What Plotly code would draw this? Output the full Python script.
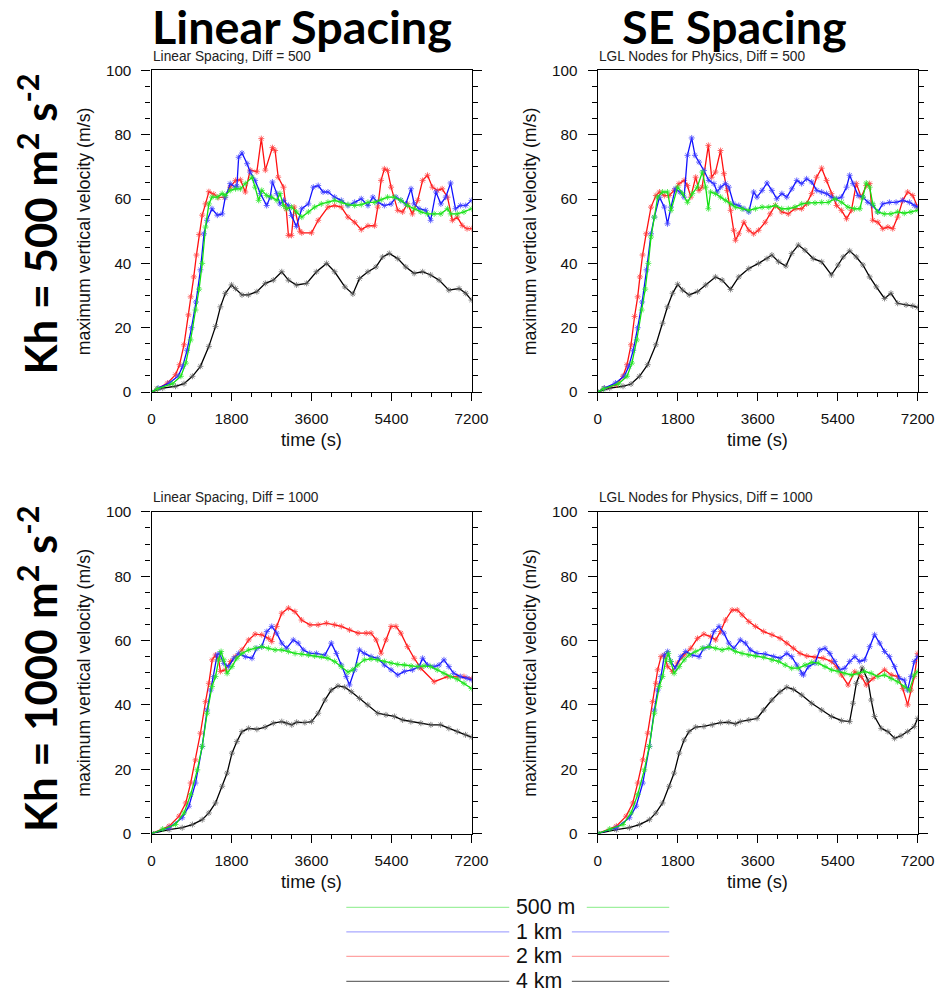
import plotly.graph_objects as go

W, H = 943, 991

# ---------------- data (time in s, max vertical velocity in m/s) ----------------
# Panel: Linear Spacing, Diff = 500
lin500_green_t = [0,130,470,660,770,880,990,1070,1140,1215,1290,1360,1480,1590,1660,1770,1890,2000,2110,2260,2330,2410,2480,2590,2700,2820,2890,2970,3040,3150,3260,3380,3530,3670,3820,3970,4120,4270,4420,4570,4720,4870,5020,5170,5310,5460,5610,5760,5910,6060,6210,6360,6510,6660,6730,6880,7030,7200]
lin500_green_v = [0,1,2.6,4.9,9,16.2,25.5,32,40,51.3,58.5,60.6,60.6,61.7,61.1,62.7,63.2,63.2,64.8,66.8,63.7,59.6,62.7,61.1,60.6,59.6,61.7,58,57,57.5,56,54.4,56,57.5,58.5,59,59.6,59,58.3,58,58.3,59,59,59.8,60.6,60.6,59.6,58,57,56,55.4,55.4,55.4,57,55.4,55.4,56,57]
lin500_blue_t = [0,150,400,600,700,800,900,1000,1100,1180,1250,1360,1480,1590,1660,1770,1890,1920,1960,2035,2150,2220,2330,2450,2590,2670,2720,2820,2890,2970,3080,3150,3260,3380,3530,3640,3750,3860,3970,4120,4270,4420,4570,4720,4870,4980,5090,5240,5390,5500,5610,5720,5840,5910,6020,6170,6280,6400,6510,6620,6730,6840,6950,7070,7200]
lin500_blue_v = [0,1.2,2.8,5,8,13,20,28,38,49.2,53.4,57,55,55.4,60.6,64.8,63.7,64,73,74.3,71,68.4,65.8,61.7,58,60.6,65.3,61.7,58.5,59.6,58,54.9,51.5,57,58.5,63.7,64.2,62.2,62.2,60.6,59.6,58,59,60.1,58,60.6,59,58,58.5,60.6,59.6,58.5,63.2,58.5,57,56.5,53.4,62.2,58.5,60.6,65,57,58,58,59.6]
lin500_red_t = [0,130,360,540,630,730,830,880,950,1010,1070,1140,1215,1290,1400,1500,1640,1770,1890,2000,2110,2220,2370,2470,2560,2720,2780,2850,2970,3030,3080,3150,3210,3340,3380,3600,3750,3970,4120,4270,4420,4570,4720,4870,5020,5090,5165,5240,5310,5390,5540,5650,5760,5870,5990,6100,6210,6320,6430,6540,6660,6770,6880,6990,7100,7200]
lin500_red_v = [0,1,2.8,5.4,8.5,14.7,24,29.6,35.8,42.6,49,55,58.5,62.3,61.5,60.5,60.5,63.7,65.8,66,62.2,69,68.5,78.8,69,76,75.1,66.8,63.7,57,48.7,48.7,57.5,50,49.5,49.5,53.4,57.5,58,57.5,54.4,52.8,50.5,51.7,51.7,57.5,65.8,69.4,68.9,63.7,56.5,56,58.5,55.4,59.6,65.8,67.4,63.7,62.7,63.2,60.6,53.4,54.4,51.8,50.8,50.8]
lin500_black_t = [0,250,540,730,920,1100,1290,1440,1550,1660,1800,1890,2035,2180,2370,2560,2740,2930,3080,3260,3490,3710,3940,4120,4350,4530,4680,4870,5050,5200,5350,5540,5720,5910,6100,6280,6470,6690,6920,7070,7200]
lin500_black_v = [0,1.2,1.8,2.6,4.9,8,14.2,20.4,26.5,30.7,33.3,32.2,30.2,30.2,31.2,33.8,34.8,37.4,34.8,33.3,33.8,37.4,40,37.4,32.7,30.5,35.3,37.4,38.9,42,43.1,41.5,38.9,36.9,37.4,36.4,34.8,31.7,32.2,30.7,28.6]

# Panel: LGL Nodes for Physics, Diff = 500
se500_green_t = [0,130,470,660,770,880,990,1070,1140,1200,1275,1350,1460,1570,1650,1800,1910,2020,2130,2240,2355,2430,2490,2540,2650,2765,2880,2990,3100,3250,3400,3550,3700,3850,4000,4140,4290,4440,4590,4740,4890,5040,5190,5340,5490,5630,5780,5900,5970,6045,6120,6190,6300,6450,6600,6750,6900,7050,7200]
se500_green_v = [0,1,2.6,4.9,9,16.2,25.5,32,40,48.2,54.4,60.6,62.2,62.2,56.5,63.7,61.7,59,61.7,63.7,68.4,63.7,57,62.2,61.7,60.6,59.6,58.5,57.5,57,56.5,57,57.5,57.5,58,57,57,57.5,58.5,58.8,58.8,59,59,60.1,59,57.5,57,57,60.6,65,63.7,58.5,56,55.4,55.4,56,55.6,56,56.5]
se500_blue_t = [0,150,400,600,700,800,900,1000,1100,1200,1275,1390,1500,1570,1650,1745,1850,1945,2020,2115,2190,2280,2390,2500,2615,2690,2765,2875,2950,3060,3175,3290,3400,3510,3585,3700,3810,3920,4030,4145,4255,4370,4480,4590,4700,4815,4930,5040,5150,5260,5375,5485,5600,5670,5745,5860,5970,6080,6190,6305,6415,6565,6715,6865,7015,7125,7200]
se500_blue_v = [0,1.2,2.8,5,8,13,20,28,38,49.2,54.4,60.6,57.5,52.3,57.5,63.2,62.2,60.6,73.6,79,73.6,71.5,68.9,65.8,64.8,62.2,63.7,64.8,63.7,58.5,58,57,56,62.2,60.6,62.7,65,62.7,60.1,61.7,60.6,63.2,65.8,64.8,66.3,65.3,62.7,62.2,61.7,60.6,60.1,60.6,63.7,67.4,64.8,61.1,60.6,59,58,56,58.5,59,59,59.6,59,58,57.5]
se500_red_t = [0,150,420,570,660,750,830,900,950,1010,1090,1200,1310,1390,1500,1610,1720,1830,1945,2020,2095,2205,2280,2350,2490,2565,2650,2765,2840,2915,2990,3060,3100,3175,3290,3400,3510,3620,3770,3880,3995,4145,4290,4440,4590,4700,4815,4925,5040,5150,5260,5375,5485,5600,5710,5820,5930,6045,6120,6190,6305,6415,6530,6640,6750,6865,6975,7090,7200]
se500_red_v = [0,1.2,2.3,4.9,8.5,14.7,23.5,29.6,35.8,42.6,49.2,57.5,61.1,62.2,61.1,61.1,62.7,64.8,65.8,64.2,60.6,66.8,62.7,63.7,76.7,66.8,68.4,75.1,67.9,62.7,56.5,50.3,47.2,49.2,52.8,50.3,49.2,50.3,52.8,55.4,58,56,55.4,57,57,58.5,61.7,66.8,69.6,65.8,61.7,58,56.5,53.9,56.5,64.8,60.6,64.2,64.8,53.4,52.8,50.8,51.3,50.8,54.4,59.6,62.2,61.1,57.5]
se500_black_t = [0,270,570,750,940,1125,1310,1460,1570,1685,1800,1910,2060,2245,2430,2650,2800,2990,3175,3400,3620,3810,3920,4070,4235,4365,4515,4665,4850,5040,5260,5410,5525,5670,5820,5970,6120,6270,6455,6600,6750,6940,7090,7200]
se500_black_v = [0,1.2,1.8,2.5,4.9,8.5,14.7,21.4,26.5,30.7,33.5,31.7,30.2,31.2,33.3,35.8,34.8,31.9,35.8,38.4,40,41.5,42.6,40.5,39.2,43.1,45.7,44.1,41.5,40.5,36.4,39.5,42,43.9,42,39.5,35.8,32.7,29.1,30.7,27.6,27.1,26.8,26.3]

# Panel: Linear Spacing, Diff = 1000
lin1000_green_t = [0,250,540,730,880,1030,1140,1250,1360,1440,1510,1565,1625,1700,1810,1920,2035,2185,2330,2480,2630,2780,2930,3080,3230,3380,3530,3670,3820,3970,4120,4270,4420,4530,4640,4790,4940,5090,5240,5390,5540,5690,5840,5990,6130,6280,6430,6580,6730,6880,7030,7200]
lin1000_green_v = [0,1.4,2.8,6.4,12.1,19.8,27.1,37.4,45.7,48.8,54,56.6,54,49.8,51.9,54.5,56,57.1,57.6,58.1,57.6,57.1,57.1,56.6,56,55.8,55.5,55.2,55,54.5,53.5,51.9,50.2,50.9,52.4,54,54.3,54,53.5,53,52.6,52.4,52.1,51.9,52.1,51.9,50.9,49.8,48.8,48,46.7,45.1]
lin1000_blue_t = [0,395,690,840,990,1140,1250,1330,1400,1475,1530,1625,1735,1850,1960,2110,2260,2370,2480,2595,2705,2815,2930,3040,3190,3300,3415,3560,3710,3900,4045,4160,4270,4380,4455,4570,4680,4790,4940,5090,5240,5390,5540,5690,5870,6020,6100,6210,6360,6470,6580,6690,6800,6950,7100,7200]
lin1000_blue_v = [0,1.8,4.9,8.5,15.7,27.1,38.4,44.6,48.8,55.5,56,52.9,51.9,54.5,56,55,54.5,57.6,58.1,62.8,64.4,62.3,59.2,57.6,60.2,59.2,57.1,56,56,55.5,59.2,56,52.4,48.8,46.2,50.9,57.1,56,55,54.5,52.4,50.9,49.3,50.4,50.9,51.9,54.5,52.4,51.9,52.4,54,51.9,49.8,48.8,48.3,47.8]
lin1000_red_t = [0,395,620,770,880,990,1100,1215,1290,1365,1440,1510,1550,1660,1775,1885,2035,2185,2330,2480,2630,2705,2815,2930,3080,3225,3375,3565,3750,3935,4120,4270,4455,4645,4830,4940,5055,5165,5275,5390,5500,5610,5760,5910,6060,6360,6655,6880,7030,7200]
lin1000_red_v = [0,2.3,5.4,9.5,15.7,22.9,31.2,41,46.7,54,55.5,54,50.4,50.9,53.5,55,57.1,60.2,62,61.8,60.7,59.7,64.4,68.5,70.1,69,66.4,64.9,64.9,65.4,64.9,64.4,63.3,62.3,62.3,62.3,60.2,56.1,60.2,64.4,64.4,62.3,58.1,54.5,51.4,47.2,48.8,48.8,48.8,48.2]
lin1000_black_t = [0,395,690,920,1140,1290,1440,1590,1700,1810,1920,2035,2185,2370,2555,2740,2930,3040,3155,3265,3450,3600,3750,3900,4045,4195,4345,4495,4680,4865,5090,5275,5465,5650,5835,6060,6285,6505,6690,6880,7065,7200]
lin1000_black_v = [0,1.2,1.8,2.8,4.3,6.4,9.5,14.7,18.8,25,28.6,31.7,32.7,32.4,33.1,34.3,34.8,34.3,33.8,34.6,34.5,34.8,37.4,41.5,44.6,45.9,45.5,44.1,42,40,37.4,36.9,36.4,35.3,34.8,34.3,33.8,33.8,32.7,31.7,30.7,30]

# Panel: LGL Nodes for Physics, Diff = 1000
se1000_green_t = [0,270,570,750,900,1050,1160,1275,1385,1460,1535,1590,1645,1720,1835,1945,2055,2205,2355,2505,2655,2800,2950,3100,3250,3400,3550,3735,3920,4070,4220,4365,4515,4665,4815,4965,5115,5260,5410,5560,5710,5860,6005,6155,6305,6455,6605,6750,6900,7015,7125,7200]
se1000_green_v = [0,1.4,2.8,6.4,12.1,19.8,27.1,37.4,45.7,48.8,54,56,53.5,49.8,51.9,54,55.5,56.6,57.6,58.1,57.6,57.1,57.6,56.6,56,55.5,55.2,54.8,54,53.5,52.4,51.4,51.4,52.4,53.2,53,51.9,50.9,50.4,49.8,49.3,49.8,50.4,49.8,48.8,49.3,48.2,47.2,45.7,44.6,49.3,50.4]
se1000_blue_t = [0,420,715,865,1015,1165,1275,1350,1425,1500,1575,1645,1745,1870,1980,2130,2280,2390,2505,2615,2730,2840,2950,3065,3210,3325,3435,3585,3770,3960,4105,4255,4365,4480,4590,4630,4740,4890,5000,5115,5225,5335,5450,5560,5670,5785,5895,6005,6120,6230,6345,6455,6565,6680,6790,6900,6975,7050,7125,7200]
se1000_blue_v = [0,1.8,4.9,8.5,15.7,27.1,38.4,44.6,48.8,55.5,56.6,53.5,51.4,55,56.6,55.5,55,57.6,58.1,62.8,64.4,62.3,59.2,57.6,60.2,59.2,57.1,56,55.8,55,54.5,56,55,52.4,49.8,49.3,51.9,53,57.1,57.6,56,53.5,50.9,51.4,53.5,55,53.5,54,58.1,61.8,59.2,56.6,55,51.9,48.3,47.7,44.6,48.8,53.5,55]
se1000_red_t = [0,420,640,790,900,1015,1125,1235,1310,1350,1425,1500,1575,1685,1795,1945,2095,2245,2390,2540,2655,2765,2875,3025,3140,3250,3400,3550,3735,3920,4105,4255,4405,4555,4705,4890,5075,5260,5375,5485,5635,5785,5935,6045,6195,6455,6605,6750,6865,6975,7050,7125,7200]
se1000_red_v = [0,2.3,5.4,9.5,15.7,22.9,31.2,41,46.7,50.9,55,55.5,51.9,50.4,53,55.5,57.6,60.7,62,61.2,60.2,62.8,66.4,69.5,69.5,68,65.9,64.4,62.8,61.8,60.7,59.2,57.6,56,55.2,54.8,54.5,53.5,51.9,49.3,46.2,50.3,48.8,46.2,48.2,50.9,49.3,48.8,45.1,40,44.6,48.8,56]
se1000_black_t = [0,420,715,940,1165,1310,1460,1610,1720,1835,1945,2055,2205,2390,2580,2765,2950,3100,3210,3400,3585,3735,3920,4105,4255,4405,4590,4815,5040,5260,5485,5670,5745,5820,5950,6080,6155,6230,6380,6530,6680,6825,6975,7125,7200]
se1000_black_v = [0,1.2,1.8,2.8,4.3,6.4,9.5,14.7,18.8,25,29.1,31.7,33.1,33.3,33.8,34.5,34.6,34.1,34.8,35.3,35.8,38.4,41.5,44.1,45.5,44.8,43.1,40.5,38.4,36.4,35.1,34.8,40.5,46.7,51.5,47.7,41.5,36.4,32.7,31.7,29.6,30.4,31.7,33.3,35.8]

col_titles = ["Linear Spacing", "SE Spacing"]
row_titles = ["Kh = 500 m<sup>2</sup> s<sup>-2</sup>", "Kh = 1000 m<sup>2</sup> s<sup>-2</sup>"]
panel_titles = ["Linear Spacing, Diff = 500", "LGL Nodes for Physics, Diff = 500",
                "Linear Spacing, Diff = 1000", "LGL Nodes for Physics, Diff = 1000"]
series_names = ["500 m", "1 km", "2 km", "4 km"]
x_ticks = [0, 1800, 3600, 5400, 7200]
y_ticks = [0, 20, 40, 60, 80, 100]
x_label = "time (s)"
y_label = "maximum vertical velocity (m/s)"

panels = [
    [(lin500_green_t, lin500_green_v), (lin500_blue_t, lin500_blue_v), (lin500_red_t, lin500_red_v), (lin500_black_t, lin500_black_v)],
    [(se500_green_t, se500_green_v), (se500_blue_t, se500_blue_v), (se500_red_t, se500_red_v), (se500_black_t, se500_black_v)],
    [(lin1000_green_t, lin1000_green_v), (lin1000_blue_t, lin1000_blue_v), (lin1000_red_t, lin1000_red_v), (lin1000_black_t, lin1000_black_v)],
    [(se1000_green_t, se1000_green_v), (se1000_blue_t, se1000_blue_v), (se1000_red_t, se1000_red_v), (se1000_black_t, se1000_black_v)],
]

# ---------------- styling ----------------
line_cols = ["#10e010", "#1010ff", "#ff1010", "#000000"]
mark_cols = ["rgba(40,230,40,0.75)", "rgba(60,60,255,0.75)", "rgba(255,60,60,0.75)", "rgba(90,90,90,0.7)"]
legend_cols = ["#9ff09f", "#a9a9ff", "#ffa3a3", "#6e6e6e"]

# target panel boxes in picture pixels (left, right, top, bottom)
px_x = [(149, 471), (598, 920)]
px_y = [(70, 392), (512, 834)]

# the photographed page comes out slightly shrunk; map target picture pixels to page pixels
SX, AX = 0.984, 0.5
SY, AY = 0.984, 8.5
def px2x(p): return ((p - AX) / SX) / W
def px2y(p): return 1 - ((p - AY) / SY) / H
def fs(v): return v / SY

fig = go.Figure()
FONT = "Liberation Sans, Arial, Helvetica, sans-serif"

for k in range(4):
    r, c = divmod(k, 2)
    idx = "" if k == 0 else str(k + 1)
    xa, ya = "x" + idx, "y" + idx
    for s in [3, 2, 1, 0]:
        t, v = panels[k][s]
        fig.add_trace(go.Scatter(
            x=t, y=v, mode="lines+markers", xaxis=xa, yaxis=ya,
            line=dict(color=line_cols[s], width=1.3),
            marker=dict(symbol="asterisk-open", size=5, color=mark_cols[s],
                        line=dict(color=mark_cols[s], width=1)),
            showlegend=False, hoverinfo="skip"))
    common = dict(showgrid=False, zeroline=False, showline=True, linecolor="black",
                  linewidth=1.3, ticks="outside", tickcolor="black", tickwidth=1,
                  tickfont=dict(family=FONT, size=fs(15), color="#111"))
    fig.layout["xaxis" + idx] = dict(
        common, domain=[px2x(px_x[c][0]), px2x(px_x[c][1])], anchor=ya,
        range=[0, 7200], tickvals=x_ticks, ticklen=8, mirror=True,
        ticklabelstandoff=5,
        minor=dict(tickvals=list(range(0, 7201, 450)), ticklen=4, ticks="outside",
                   tickcolor="black", tickwidth=1))
    fig.layout["yaxis" + idx] = dict(
        common, domain=[px2y(px_y[r][1]), px2y(px_y[r][0])], anchor=xa,
        range=[0, 100], tickvals=y_ticks, ticklen=9, mirror="allticks",
        ticklabelstandoff=7,
        minor=dict(tickvals=list(range(0, 101, 5)), ticklen=5, ticks="outside",
                   tickcolor="black", tickwidth=1))
    fig.add_annotation(x=px2x(px_x[c][0] - 1), y=px2y(px_y[r][0] - 14), xref="paper", yref="paper",
                       text=panel_titles[k], showarrow=False, xanchor="left", yanchor="middle",
                       font=dict(family=FONT, size=fs(13.5), color="#222"))
    fig.add_annotation(x=px2x((px_x[c][0] + px_x[c][1]) / 2), y=px2y(px_y[r][1] + 48), xref="paper", yref="paper",
                       text=x_label, showarrow=False, xanchor="center", yanchor="middle",
                       font=dict(family=FONT, size=fs(18), color="#111"))
    fig.add_annotation(x=px2x(px_x[c][0] - 68), y=px2y((px_y[r][0] + px_y[r][1]) / 2), xref="paper", yref="paper",
                       text=y_label, showarrow=False, xanchor="center", yanchor="middle", textangle=-90,
                       font=dict(family=FONT, size=fs(17.5), color="#111"))

for c, txt in enumerate(col_titles):
    fig.add_annotation(x=px2x([300, 736][c]), y=px2y(26), xref="paper", yref="paper",
                       text="<b>" + txt + "</b>", showarrow=False, xanchor="center", yanchor="middle",
                       font=dict(family="Lato, Open Sans, sans-serif", size=fs(46), color="black"))
for r, txt in enumerate(row_titles):
    fig.add_annotation(x=px2x(34), y=px2y([224, 669][r]), xref="paper", yref="paper",
                       text="<b>" + txt + "</b>", showarrow=False, xanchor="center", yanchor="middle",
                       textangle=-90,
                       font=dict(family="Lato, Open Sans, sans-serif", size=fs(43), color="black"))

leg_y = [908, 932.5, 957, 982]
leg_seg2 = [587, 572, 572, 572]
for i, name in enumerate(series_names):
    fig.add_shape(type="line", xref="paper", yref="paper",
                  x0=px2x(345), x1=px2x(509), y0=px2y(leg_y[i]), y1=px2y(leg_y[i]),
                  line=dict(color=legend_cols[i], width=1.3))
    fig.add_shape(type="line", xref="paper", yref="paper",
                  x0=px2x(leg_seg2[i]), x1=px2x(670), y0=px2y(leg_y[i]), y1=px2y(leg_y[i]),
                  line=dict(color=legend_cols[i], width=1.3))
    fig.add_annotation(x=px2x(514), y=px2y(leg_y[i]), xref="paper", yref="paper",
                       text=name, showarrow=False, xanchor="left", yanchor="middle",
                       font=dict(family=FONT, size=fs(21), color="#111"))

fig.update_layout(width=W, height=H, margin=dict(l=0, r=0, t=0, b=0),
                  paper_bgcolor="white", plot_bgcolor="white", showlegend=False)

fig.write_html("out.html", config={"displayModeBar": False},
               post_script=("document.documentElement.style.margin='0';"
                            "document.body.style.margin='0';document.body.style.overflow='hidden';"
                            "var d=document.querySelector('.plotly-graph-div');"
                            "d.style.position='fixed';d.style.top='0px';d.style.left='0px';"))
